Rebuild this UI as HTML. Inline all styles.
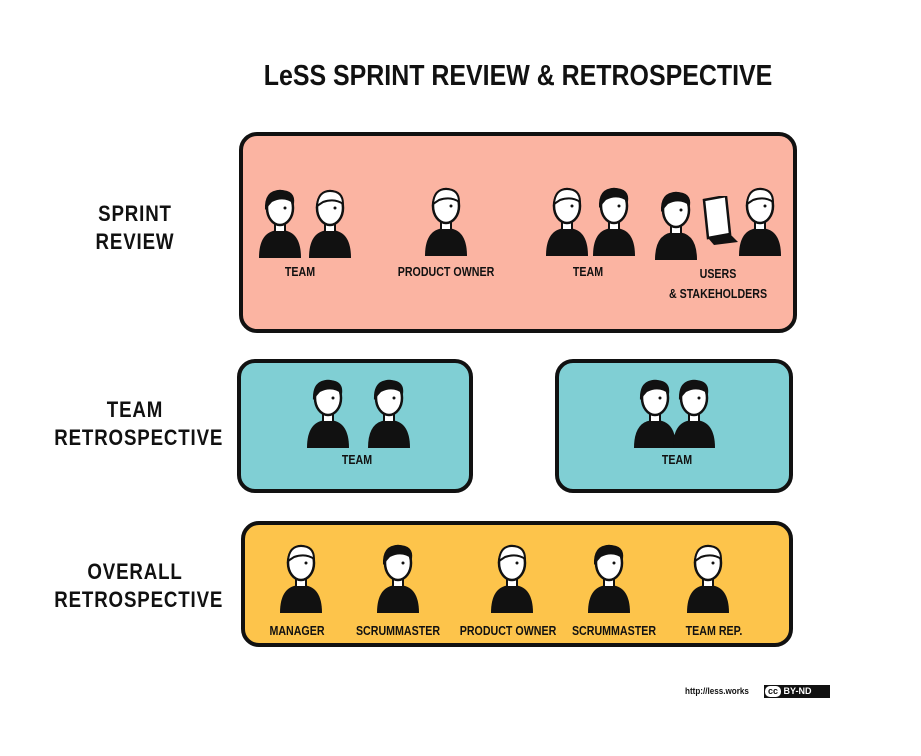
<!DOCTYPE html>
<html><head><meta charset="utf-8"><style>
body{margin:0;background:#fff;width:921px;height:756px;position:relative;overflow:hidden;font-family:"Liberation Sans",sans-serif;font-weight:bold;color:#111}
.a{position:absolute}
.box{position:absolute;border:4px solid #111;border-radius:18px;box-sizing:border-box}
.lbl{position:absolute;font-size:22px;text-align:center;line-height:28px;transform:scaleX(.85);letter-spacing:1px;white-space:nowrap}
.pl{position:absolute;font-size:13px;text-align:center;white-space:nowrap;transform:translateX(-50%) scaleX(.82);line-height:16px}
</style></head><body>
<svg width="0" height="0" style="position:absolute"><defs>
<symbol id="p" viewBox="0 0 44 70"><path d="M1 70 Q1 42 22 42 Q43 42 43 70 Z" fill="#111"/><rect x="17" y="32" width="10" height="12" fill="#fff" stroke="#111" stroke-width="2"/><ellipse cx="22" cy="20" rx="13" ry="17" fill="#fff" stroke="#111" stroke-width="2.5"/><path d="M9 18 Q10 3 22 3 Q35 3 35 16 Q27 10 15 14 Z" fill="#fff" stroke="#111" stroke-width="2"/><circle cx="27" cy="20" r="1.5" fill="#111"/></symbol>
<symbol id="d" viewBox="0 0 44 70"><path d="M1 70 Q1 42 22 42 Q43 42 43 70 Z" fill="#111"/><rect x="17" y="32" width="10" height="12" fill="#fff" stroke="#111" stroke-width="2"/><ellipse cx="22" cy="20" rx="13" ry="17" fill="#fff" stroke="#111" stroke-width="2.5"/><path d="M7 22 Q6 2 22 2 Q38 2 36 16 Q26 8 14 14 Z" fill="#111"/><circle cx="27" cy="20" r="1.5" fill="#111"/></symbol>
</defs></svg>
<div class="a" style="left:218px;top:60px;width:600px;text-align:center;font-size:29px;white-space:nowrap;transform:scaleX(.86)">LeSS SPRINT REVIEW &amp; RETROSPECTIVE</div>

<div class="lbl" style="left:50px;top:200px;width:170px">SPRINT<br>REVIEW</div>
<div class="lbl" style="left:40px;top:396px;width:190px">TEAM<br>RETROSPECTIVE</div>
<div class="lbl" style="left:40px;top:558px;width:190px">OVERALL<br>RETROSPECTIVE</div>

<div class="box" style="left:239px;top:132px;width:558px;height:201px;background:#fbb4a2"></div>
<div class="box" style="left:237px;top:359px;width:236px;height:134px;background:#80cfd4"></div>
<div class="box" style="left:555px;top:359px;width:238px;height:134px;background:#80cfd4"></div>
<div class="box" style="left:241px;top:521px;width:552px;height:126px;background:#fdc44b"></div>

<div id="people"></div>

<div class="pl" style="left:300px;top:264px">TEAM</div>
<div class="pl" style="left:446px;top:264px">PRODUCT OWNER</div>
<div class="pl" style="left:588px;top:264px">TEAM</div>
<div class="pl" style="left:718px;top:264px;line-height:20px">USERS<br>&amp; STAKEHOLDERS</div>
<div class="pl" style="left:357px;top:452px">TEAM</div>
<div class="pl" style="left:677px;top:452px">TEAM</div>
<div class="pl" style="left:297px;top:623px">MANAGER</div>
<div class="pl" style="left:398px;top:623px">SCRUMMASTER</div>
<div class="pl" style="left:508px;top:623px">PRODUCT OWNER</div>
<div class="pl" style="left:614px;top:623px">SCRUMMASTER</div>
<div class="pl" style="left:714px;top:623px">TEAM REP.</div>

<svg class="a" style="left:700px;top:196px" width="40" height="50"><path d="M4 4 L26 0 L30 38 L8 42 Z" fill="#fff" stroke="#111" stroke-width="2.5"/><path d="M8 42 L30 38 L38 46 L14 49 Z" fill="#111"/></svg>

<div class="a" style="left:685px;top:686px;font-size:9px;transform:scaleX(.9);transform-origin:left">http://less.works</div>
<div class="a" style="left:764px;top:685px;width:66px;height:13px;background:#111;color:#fff;font-size:9px;line-height:11px;box-sizing:border-box;border:1px solid #111"><span style="background:#fff;color:#111;padding:0 3px;display:inline-block;border-radius:5px">cc</span> BY-ND</div>

<script>
const people=[[280,188,'d'],[330,188,'p'],[446,186,'p'],[567,186,'p'],[614,186,'d'],[676,190,'d'],[760,186,'p'],
[328,378,'d'],[389,378,'d'],[655,378,'d'],[694,378,'d'],
[301,543,'p'],[398,543,'d'],[512,543,'p'],[609,543,'d'],[708,543,'p']];
const c=document.getElementById('people');
people.forEach(([x,y,t],i)=>{
 const s=document.createElementNS('http://www.w3.org/2000/svg','svg');
 
 
 s.setAttribute('width','44');s.setAttribute('height','70');s.setAttribute('viewBox','0 0 44 70');
 s.style.cssText=`position:absolute;left:${x-22}px;top:${y}px`;
 s.innerHTML=`<use href="#${t}"/>`;
 c.appendChild(s);
});
</script>
</body></html>
